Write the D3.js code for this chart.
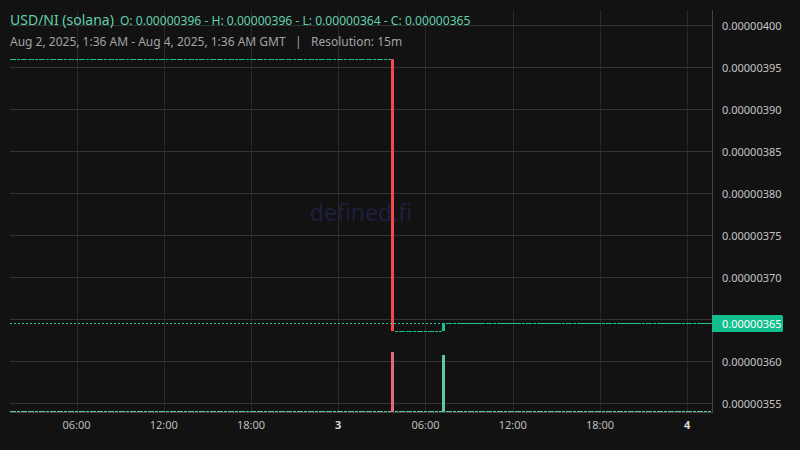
<!DOCTYPE html>
<html>
<head>
<meta charset="utf-8">
<script src="https://cdn.jsdelivr.net/npm/d3@7/dist/d3.min.js"></script>
<style>
  html, body { margin: 0; padding: 0; background: #121212; }
  svg { display: block; }
</style>
</head>
<body>
<svg id="chart" width="800" height="450"></svg>
<script>
// ---- DATA (prices in units of 1e-8) ----
const PRICE_UNIT = 1e-8;
const firstCandle = Date.UTC(2025, 7, 2, 1, 30);   // 15m candles
const lastCandle = Date.UTC(2025, 7, 4, 1, 30);
const closes = [
  396,396,396,396,396,396,396,396,396,396,396,396,396,396,396,
  396,396,396,396,396,396,396,396,396,396,396,396,396,396,396,
  396,396,396,396,396,396,396,396,396,396,396,396,396,396,396,
  396,396,396,396,396,396,396,396,396,396,396,396,396,396,396,
  396,396,396,396,396,396,396,396,396,396,396,396,396,396,396,
  396,396,396,396,396,396,396,396,396,396,396,396,396,396,396,
  396,396,396,396,396,396,396,396,396,396,396,396,396,396,396,
  363.6,363.6,363.6,363.6,363.6,363.6,363.6,363.6,363.6,363.6,363.6,363.6,363.6,363.6,
  364.5,364.5,364.5,364.5,364.5,364.5,364.5,364.5,364.5,364.5,364.5,364.5,364.5,364.5,364.5,
  364.5,364.5,364.5,364.5,364.5,364.5,364.5,364.5,364.5,364.5,364.5,364.5,364.5,364.5,364.5,
  364.5,364.5,364.5,364.5,364.5,364.5,364.5,364.5,364.5,364.5,364.5,364.5,364.5,364.5,364.5,
  364.5,364.5,364.5,364.5,364.5,364.5,364.5,364.5,364.5,364.5,364.5,364.5,364.5,364.5,364.5,
  364.5,364.5,364.5,364.5,364.5,364.5,364.5,364.5,364.5,364.5,364.5,364.5,364.5,364.5
];
const volumes = [
  4,4,4,4,4,4,4,4,4,4,4,4,4,4,4,
  4,4,4,4,4,4,4,4,4,4,4,4,4,4,4,
  4,4,4,4,4,4,4,4,4,4,4,4,4,4,4,
  4,4,4,4,4,4,4,4,4,4,4,4,4,4,4,
  4,4,4,4,4,4,4,4,4,4,4,4,4,4,4,
  4,4,4,4,4,4,4,4,4,4,4,4,4,4,4,
  4,4,4,4,4,4,4,4,4,4,4,4,4,4,4,
  330,4,4,4,4,4,4,4,4,4,4,4,4,4,
  314,4,4,4,4,4,4,4,4,4,4,4,4,4,4,
  4,4,4,4,4,4,4,4,4,4,4,4,4,4,4,
  4,4,4,4,4,4,4,4,4,4,4,4,4,4,4,
  4,4,4,4,4,4,4,4,4,4,4,4,4,4,4,
  4,4,4,4,4,4,4,4,4,4,4,4,4,4
];
const yTicks = [355, 360, 365, 370, 375, 380, 385, 390, 395, 400];
const legendTitle = "USD/NI (solana)";
const legendOHLC = "O: 0.00000396 - H: 0.00000396 - L: 0.00000364 - C: 0.00000365";
const legendSub = "Aug 2, 2025, 1:36 AM - Aug 4, 2025, 1:36 AM GMT   |   Resolution: 15m";
const watermark = "defined.fi";

// ---- BUILD CANDLES ----
const STEP = 15 * 60 * 1000;
const candles = closes.map((c, i) => {
  const o = i === 0 ? c : closes[i - 1];
  return { t: new Date(firstCandle + i * STEP), o, c, h: Math.max(o, c), l: Math.min(o, c), v: volumes[i] };
});

// ---- LAYOUT ----
const L = 10, R = 712, T = 10, B = 412;
const UP = "#1cbd96", DOWN = "#f44a4a";
const UPVOL = "#5cc8a4", DOWNVOL = "#e8687a";

const svg = d3.select("#chart");
svg.append("rect").attr("width", 800).attr("height", 450).attr("fill", "#121212");

const x = d3.scaleUtc().domain([new Date(firstCandle), new Date(lastCandle)]).range([11.1, 709.0]);
const y = d3.scaleLinear().domain([355, 400]).range([403, 25]);
const vy = d3.scaleLinear().domain([0, d3.max(volumes)]).range([B - 0.5, T + 0.85 * (B - T)]);

// clip
svg.append("clipPath").attr("id", "plot").append("rect")
  .attr("x", L).attr("y", T).attr("width", R - L).attr("height", B - T);

// grid
const xTicks = x.ticks(d3.utcHour.every(6));
const grid = svg.append("g").attr("shape-rendering", "crispEdges");
grid.selectAll("line.v").data(xTicks).join("line")
  .attr("x1", d => Math.round(x(d)) + 0.5).attr("x2", d => Math.round(x(d)) + 0.5)
  .attr("y1", T).attr("y2", B).attr("stroke", "#2a2a2a").attr("stroke-width", 1);
grid.selectAll("line.h").data(yTicks).join("line")
  .attr("x1", L).attr("x2", R)
  .attr("y1", d => Math.round(y(d)) + 0.5).attr("y2", d => Math.round(y(d)) + 0.5)
  .attr("stroke", "#333333").attr("stroke-width", 1);

// watermark
svg.append("text").attr("x", (L + R) / 2).attr("y", (T + B) / 2 + 4)
  .attr("text-anchor", "middle").attr("dominant-baseline", "middle")
  .attr("font-family", "Noto Sans, sans-serif").attr("font-size", 23)
  .attr("fill", "#1f1f3e").text(watermark);

const plot = svg.append("g").attr("clip-path", "url(#plot)").attr("shape-rendering", "crispEdges");
const bw = 3;

// volumes
plot.selectAll("rect.vol").data(candles).join("rect")
  .attr("x", d => Math.round(x(d.t) - bw / 2))
  .attr("width", bw)
  .attr("y", d => Math.min(Math.round(vy(d.v)), B - 1))
  .attr("height", d => B - Math.min(Math.round(vy(d.v)), B - 1))
  .attr("fill", d => d.c < d.o ? DOWNVOL : UPVOL);

// candles
plot.selectAll("rect.candle").data(candles).join("rect")
  .attr("x", d => Math.round(x(d.t) - bw / 2))
  .attr("width", bw)
  .attr("y", d => Math.round(y(d.h)))
  .attr("height", d => Math.max(1, Math.round(y(d.l)) - Math.round(y(d.h))))
  .attr("fill", d => d.c < d.o ? DOWN : UP);

// last price line
const last = candles[candles.length - 1];
plot.append("line")
  .attr("x1", L).attr("x2", R)
  .attr("y1", Math.round(y(last.c)) + 0.5).attr("y2", Math.round(y(last.c)) + 0.5)
  .attr("stroke", "#22c9a0").attr("stroke-width", 1).attr("stroke-dasharray", "2,2");

// borders
const borders = svg.append("g").attr("shape-rendering", "crispEdges");
borders.append("line").attr("x1", R + 0.5).attr("x2", R + 0.5).attr("y1", T).attr("y2", B + 0.5)
  .attr("stroke", "#444").attr("stroke-width", 1);
borders.append("line").attr("x1", L).attr("x2", R + 0.5).attr("y1", B + 0.5).attr("y2", B + 0.5)
  .attr("stroke", "#444").attr("stroke-width", 1);

// y axis labels
const fmt = v => (v * PRICE_UNIT).toFixed(8);
const lastY = y(last.c);
svg.append("g").selectAll("text").data(yTicks.filter(t => Math.abs(y(t) - lastY) > 12)).join("text")
  .attr("x", 722).attr("y", d => y(d)).attr("dominant-baseline", "central")
  .attr("font-family", "Noto Sans, sans-serif").attr("font-size", 11)
  .attr("fill", "#c4c4c4").text(fmt);

// price box
const boxY = Math.round(lastY) - 8;
svg.append("path")
  .attr("d", `M${R},${boxY} H781 a2,2 0 0 1 2,2 V${boxY + 15} a2,2 0 0 1 -2,2 H${R} Z`)
  .attr("fill", "#12bd8e");
svg.append("text").attr("x", 722).attr("y", lastY + 0.5).attr("dominant-baseline", "central")
  .attr("font-family", "Noto Sans, sans-serif").attr("font-size", 11)
  .attr("fill", "#ffffff").text(fmt(last.c));

// x axis labels
svg.append("g").selectAll("text").data(xTicks).join("text")
  .attr("x", d => x(d)).attr("y", 424).attr("text-anchor", "middle").attr("dominant-baseline", "central")
  .attr("font-family", "Noto Sans, sans-serif").attr("font-size", 11)
  .attr("font-weight", d => d.getUTCHours() === 0 ? "bold" : "normal")
  .attr("fill", d => d.getUTCHours() === 0 ? "#d8d8d8" : "#bdbdbd")
  .text(d => d.getUTCHours() === 0 ? d3.utcFormat("%-d")(d) : d3.utcFormat("%H:%M")(d));

// legend
const lg = svg.append("text").attr("x", 10).attr("y", 25)
  .attr("font-family", "Noto Sans, sans-serif").attr("fill", "#62d0ad");
lg.append("tspan").attr("font-size", 14).text(legendTitle);
lg.append("tspan").attr("dx", 6).attr("font-size", 12.1).text(legendOHLC);
svg.append("text").attr("x", 10).attr("y", 45.5)
  .attr("font-family", "Noto Sans, sans-serif").attr("font-size", 12)
  .attr("fill", "#a3a3a3").style("white-space", "pre").text(legendSub);
</script>
</body>
</html>
